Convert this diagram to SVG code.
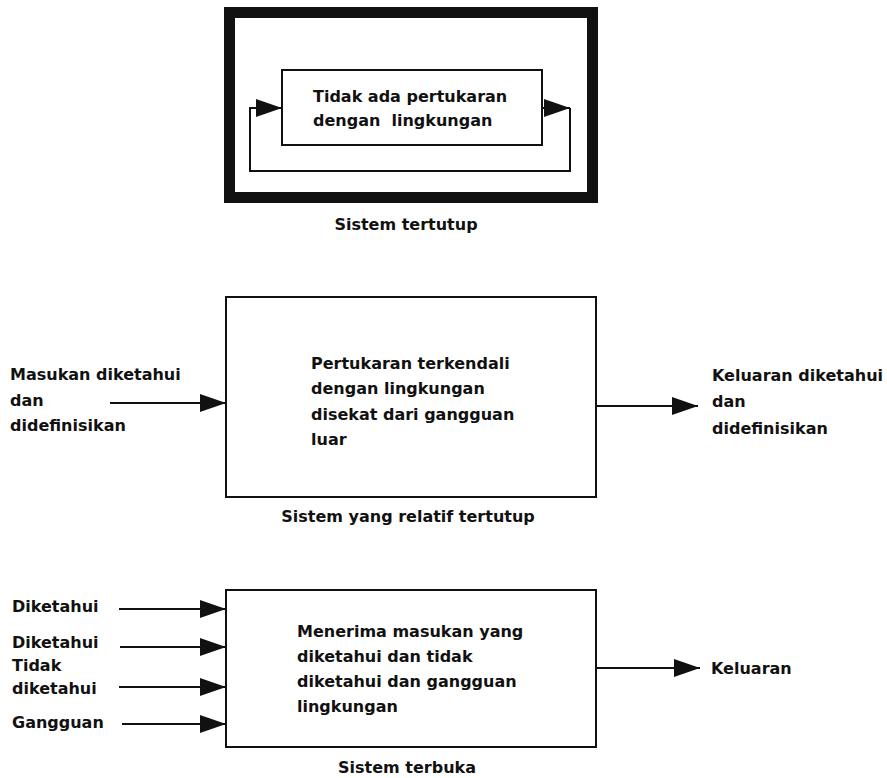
<svg xmlns="http://www.w3.org/2000/svg" width="887" height="778" viewBox="0 0 887 778">
  <style>
    text { font-family: "DejaVu Sans", "Liberation Sans", sans-serif; font-weight: bold; font-size: 16px; fill: #111; }
    .box { fill: none; stroke: #111; stroke-width: 2; }
    .frame { fill: none; stroke: #111; stroke-width: 11; }
    .line { fill: none; stroke: #111; stroke-width: 2; }
  </style>
  <defs>
    <marker id="arrow" viewBox="0 0 26 18" refX="26" refY="9" markerWidth="26" markerHeight="18" markerUnits="userSpaceOnUse" orient="auto">
      <path d="M0,0 L26,9 L0,18 Z" fill="#111"/>
    </marker>
  </defs>

  <rect width="887" height="778" fill="#fff"/>

  <!-- Closed system -->
  <g id="closed-system">
    <rect class="frame" x="229.5" y="12.5" width="363" height="185"/>
    <rect class="box" x="282" y="70" width="260" height="75"/>
    <text x="313" y="102">Tidak ada pertukaran</text>
    <text x="313" y="126" xml:space="preserve">dengan  lingkungan</text>
  </g>
  <text id="caption-closed" x="406" y="230" text-anchor="middle">Sistem tertutup</text>

  <!-- Relatively closed system -->
  <g id="relatively-closed-system">
    <rect class="box" x="226" y="297" width="370" height="200"/>
    <text x="311" y="369">Pertukaran terkendali</text>
    <text x="311" y="394">dengan lingkungan</text>
    <text x="311" y="420">disekat dari gangguan</text>
    <text x="311" y="445">luar</text>
  </g>
  <g id="input-known">
    <text x="10" y="380">Masukan diketahui</text>
    <text x="10" y="406">dan</text>
    <text x="10" y="431">didefinisikan</text>
  </g>
  <g id="output-known">
    <text x="712" y="381">Keluaran diketahui</text>
    <text x="712" y="407">dan</text>
    <text x="712" y="434">didefinisikan</text>
  </g>
  <text id="caption-relative" x="408" y="522" text-anchor="middle">Sistem yang relatif tertutup</text>

  <!-- Open system -->
  <g id="open-system">
    <rect class="box" x="226" y="590" width="370" height="157"/>
    <text x="297" y="637">Menerima masukan yang</text>
    <text x="297" y="662">diketahui dan tidak</text>
    <text x="297" y="687">diketahui dan gangguan</text>
    <text x="297" y="712">lingkungan</text>
  </g>
  <g id="open-inputs">
    <text x="12" y="612">Diketahui</text>
    <text x="12" y="648">Diketahui</text>
    <text x="12" y="671">Tidak</text>
    <text x="12" y="694">diketahui</text>
    <text x="12" y="728">Gangguan</text>
  </g>
  <text id="open-output" x="711" y="674">Keluaran</text>
  <text id="caption-open" x="407" y="773" text-anchor="middle">Sistem terbuka</text>

  <!-- Connectors -->
  <g id="connectors">
    <!-- feedback loop around the closed system -->
    <polyline class="line" points="542,108 570,108" marker-end="url(#arrow)"/>
    <polyline class="line" points="570,108 570,171 250,171 250,108 282,108" marker-end="url(#arrow)"/>
    <!-- relatively closed system -->
    <line class="line" x1="110" y1="403" x2="226" y2="403" marker-end="url(#arrow)"/>
    <line class="line" x1="596" y1="406" x2="698" y2="406" marker-end="url(#arrow)"/>
    <!-- open system -->
    <line class="line" x1="119" y1="609" x2="226" y2="609" marker-end="url(#arrow)"/>
    <line class="line" x1="120" y1="647" x2="226" y2="647" marker-end="url(#arrow)"/>
    <line class="line" x1="119" y1="687" x2="226" y2="687" marker-end="url(#arrow)"/>
    <line class="line" x1="122" y1="724" x2="226" y2="724" marker-end="url(#arrow)"/>
    <line class="line" x1="596" y1="668" x2="700" y2="668" marker-end="url(#arrow)"/>
  </g>
</svg>
